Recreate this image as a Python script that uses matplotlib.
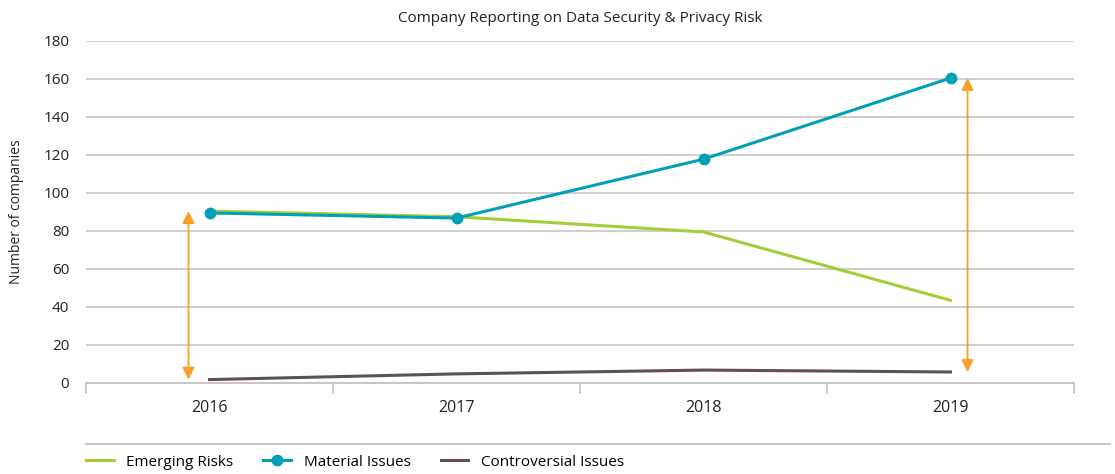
import matplotlib.pyplot as plt
from matplotlib.lines import Line2D

plt.rcParams['font.family'] = ['Open Sans', 'DejaVu Sans']

years = ["2016", "2017", "2018", "2019"]
emerging = [90.5, 87.5, 79.5, 43.5]
material = [89.5, 86.8, 117.8, 160.5]
controversial = [1.8, 4.8, 6.8, 5.8]

green = "#a5cd39"
teal = "#00a1b5"
brown = "#5e514d"
orange = "#f7a12a"
grid = "#c8c5c4"

fig = plt.figure(figsize=(11.15, 4.74), dpi=100)
ax = fig.add_axes([86 / 1115, 1 - 383 / 474, 988 / 1115, 342 / 474])

x = list(range(len(years)))
ax.plot(x, emerging, color=green, lw=2.2, label="Emerging Risks", zorder=3)
ax.plot(x, material, color=teal, lw=2.2, marker="o", ms=7.5, label="Material Issues", zorder=4)
ax.plot(x, controversial, color=brown, lw=2.2, label="Controversial Issues", zorder=3)

# range arrows between lowest and highest series
for xi, off in [(0, -0.085), (3, 0.069)]:
    lo = controversial[xi]
    hi = max(emerging[xi], material[xi])
    ax.annotate("", xy=(xi + off, hi), xytext=(xi + off, lo),
                arrowprops=dict(arrowstyle="<|-|>", color=orange, lw=1.3,
                                mutation_scale=18, shrinkA=0, shrinkB=0), zorder=2)

ax.set_xlim(-0.5, 3.5)
ax.set_ylim(0, 180)
ax.set_yticks(range(0, 181, 20))
ax.set_xticks(x)
ax.set_xticklabels(years, fontsize=11.5, color="#222222")
ax.set_xticks([-0.5, 0.5, 1.5, 2.5, 3.5], minor=True)
ax.tick_params(axis="x", which="major", length=0, pad=12)
ax.tick_params(axis="x", which="minor", length=8, color=grid, width=1.2)
ax.tick_params(axis="y", length=0, labelsize=11, labelcolor="#222222", pad=12)
ax.yaxis.grid(True, color=grid, lw=1.2)
ax.set_axisbelow(True)
for s in ["top", "right", "left"]:
    ax.spines[s].set_visible(False)
ax.spines["bottom"].set_color(grid)
ax.spines["bottom"].set_linewidth(1.5)

fig.text(17 / 1115, 1 - 212 / 474, "Number of companies", rotation=90,
         ha="center", va="center", fontsize=10, color="#222222")
fig.text(580 / 1115, 1 - 18 / 474, "Company Reporting on Data Security & Privacy Risk",
         ha="center", va="center", fontsize=11, color="#222222")

fig.add_artist(Line2D([86 / 1115, 1110 / 1115], [1 - 444 / 474, 1 - 444 / 474],
                      color=grid, lw=1.5))
fig.legend(loc="center left", bbox_to_anchor=(86 / 1115, 1 - 462 / 474), ncol=3,
           frameon=False, fontsize=11, handlelength=1.8, columnspacing=1.95,
           handletextpad=0.85, borderaxespad=0, borderpad=0)

fig.savefig("out.png", dpi=100)
